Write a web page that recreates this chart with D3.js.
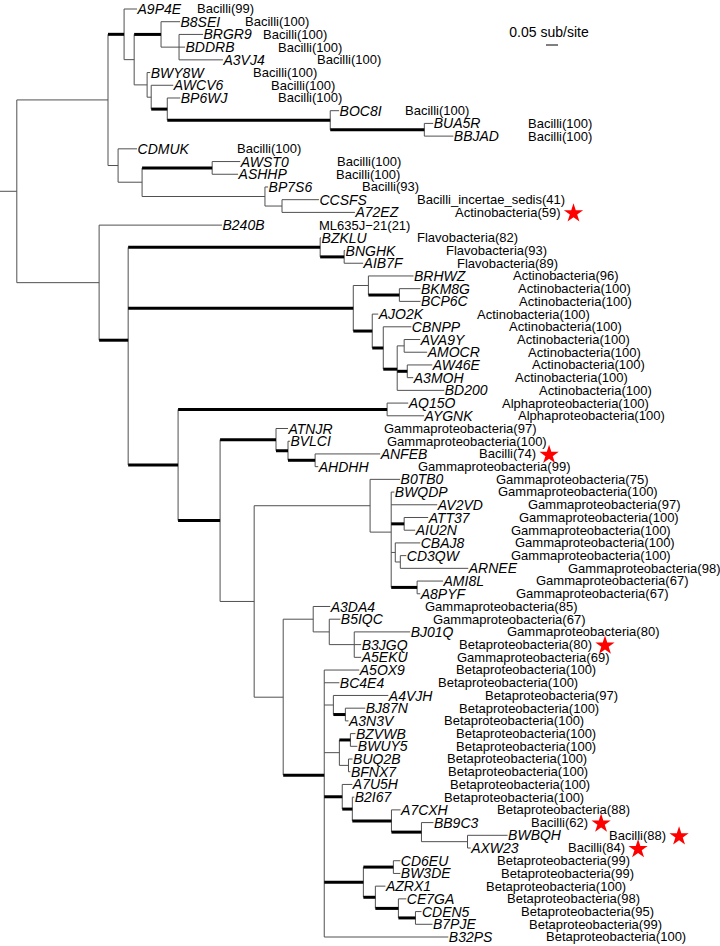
<!DOCTYPE html>
<html><head><meta charset="utf-8">
<script src="https://cdn.jsdelivr.net/npm/d3@7"></script>
<style>body{margin:0;background:#fff}svg{display:block}</style>
</head><body><svg id="c" width="720" height="946"></svg>
<script>
// ---------------- DATA ----------------
// edges: [child, parent, branch length (sub/site)] in pre-order, per clade
const rootEdge = 0.070;
const bacilliEdges = [
  ["nA","root",0.380],["n124","nA",0.067],["A9P4E","n124",0.054],["n134","n124",0.042],
  ["n161","n134",0.112],["B8SEI","n161",0.079],["n179","n161",0.075],["BRGR9","n179",0.100],
  ["BDDRB","n179",0.025],["A3VJ4","n179",0.183],["n147","n134",0.054],["BWY8W","n147",0.013],
  ["n151","n147",0.017],["AWCV6","n151",0.092],["n167","n151",0.067],["BP6WJ","n167",0.054],
  ["n330","n167",0.679],["BOC8I","n330",0.037],["n424","n330",0.392],["BUA5R","n424",0.037],
  ["BBJAD","n424",0.121],["n118","nA",0.042],["CDMUK","n118",0.079],["n142","n118",0.100],
  ["n212","n142",0.292],["AWST0","n212",0.117],["ASHHP","n212",0.108],["n265","n142",0.512],
  ["BP7S6","n265",0.013],["n282","n265",0.071],["CCSFS","n282",0.154],["A72EZ","n282",0.304]
];
const flavoActinoEdges = [
  ["nB","root",0.343],["B240B","nB",0.512],["nC","nB",0.121],["nFl","nC",0.800],
  ["BZKLU","nFl",0.004],["n344","nFl",0.100],["BNGHK","n344",0.004],["AIB7F","n344",0.079],
  ["nAc","nC",0.938],["n368","nAc",0.063],["BRHWZ","n368",0.188],["n399","n368",0.129],
  ["BKM8G","n399",0.088],["BCP6C","n399",0.088],["n372","nAc",0.079],["AJO2K","n372",0.025],
  ["n383","n372",0.046],["CBNPP","n383",0.117],["n397","n383",0.058],["n404","n397",0.029],
  ["AVA9Y","n404",0.067],["AMOCR","n404",0.096],["n407","n397",0.042],["AW46E","n407",0.104],
  ["A3MOH","n407",0.025],["BD200","n397",0.196]
];
const alphaGammaEdges = [
  ["n178","nC",0.208],["nAl","n178",0.871],["AQ15O","nAl",0.088],["AYGNK","nAl",0.154],
  ["n220","n178",0.175],["n276","n220",0.233],["ATNJR","n276",0.050],["n288","n276",0.050],
  ["BVLCI","n288",0.008],["n315","n288",0.113],["ANFEB","n315",0.271],["AHDHH","n315",0.013],
  ["n254","n220",0.142],["nG","n254",0.483],["B0TB0","nG",0.125],["n391","nG",0.088],
  ["BWQDP","n391",0.013],["AV2VD","n391",0.192],["n404g","n391",0.054],["ATT37","n404g",0.100],
  ["AIU2N","n404g",0.046],["n395","n391",0.017],["CBAJ8","n395",0.104],["n400","n395",0.021],
  ["CD3QW","n400",0.025],["ARNEE","n400",0.283],["n417","n391",0.108],["AMI8L","n417",0.108],
  ["A8PYF","n417",0.013]
];
const betaEdges = [
  ["n283","n254",0.121],["n313","n283",0.125],["A3DA4","n313",0.071],["n329","n313",0.067],
  ["B5IQC","n329",0.046],["n354","n329",0.104],["BJ01Q","n354",0.233],["B3JGQ","n354",0.029],
  ["A5EKU","n354",0.029],["n324","n283",0.171],["A5OX9","n324",0.146],["BC4E4","n324",0.063],
  ["n333","n324",0.038],["A4VJH","n333",0.229],["n345","n333",0.050],["BJ87N","n345",0.083],
  ["A3N3V","n345",0.013],["n338","n324",0.063],["n350","n338",0.046],["BZVWB","n350",0.021],
  ["BWUY5","n350",0.029],["n348","n338",0.038],["BUQ2B","n348",0.017],["BFNX7","n348",0.008],
  ["n342","n324",0.075],["A7U5H","n342",0.042],["n352","n342",0.042],["B2I67","n352",0.008],
  ["n391b","n352",0.163],["A7CXH","n391b",0.038],["n421","n391b",0.125],["BB9C3","n421",0.050],
  ["n467","n421",0.192],["BWBQH","n467",0.167],["AXW23","n467",0.013],["n363","n324",0.163],
  ["n393","n363",0.125],["CD6EU","n393",0.029],["BW3DE","n393",0.029],["n375","n363",0.050],
  ["AZRX1","n375",0.042],["n398","n375",0.096],["CE7GA","n398",0.033],["n415","n398",0.071],
  ["CDEN5","n415",0.025],["B7PJE","n415",0.071],["B32PS","n324",0.517]
];
// branches with strong support (drawn thick)
const supportedBranches = ["n124","n161","n167","n330","n424","n212","nC","nFl","n344","nAc",
  "n399","n372","n383","n397","n407","n178","nAl","n220","n276","n288","n315","n404g","n417",
  "n324","n345","n350","n342","n352","n391b","n421","n363","n393","n375","n398","n415"];
// taxonomy annotation per tip (in tip order)
const tipTaxa = [
  "Bacilli(99)","Bacilli(100)","Bacilli(100)","Bacilli(100)","Bacilli(100)","Bacilli(100)",
  "Bacilli(100)","Bacilli(100)","Bacilli(100)","Bacilli(100)","Bacilli(100)","Bacilli(100)",
  "Bacilli(100)","Bacilli(100)","Bacilli(93)","Bacilli_incertae_sedis(41)","Actinobacteria(59)",
  "ML635J\u221221(21)","Flavobacteria(82)","Flavobacteria(93)","Flavobacteria(89)",
  "Actinobacteria(96)","Actinobacteria(100)","Actinobacteria(100)","Actinobacteria(100)",
  "Actinobacteria(100)","Actinobacteria(100)","Actinobacteria(100)","Actinobacteria(100)",
  "Actinobacteria(100)","Actinobacteria(100)","Alphaproteobacteria(100)","Alphaproteobacteria(100)",
  "Gammaproteobacteria(97)","Gammaproteobacteria(100)","Bacilli(74)","Gammaproteobacteria(99)",
  "Gammaproteobacteria(75)","Gammaproteobacteria(100)","Gammaproteobacteria(97)",
  "Gammaproteobacteria(100)","Gammaproteobacteria(100)","Gammaproteobacteria(100)",
  "Gammaproteobacteria(100)","Gammaproteobacteria(98)","Gammaproteobacteria(67)",
  "Gammaproteobacteria(67)","Gammaproteobacteria(85)","Gammaproteobacteria(67)",
  "Gammaproteobacteria(80)","Betaproteobacteria(80)","Gammaproteobacteria(69)",
  "Betaproteobacteria(100)","Betaproteobacteria(100)","Betaproteobacteria(97)",
  "Betaproteobacteria(100)","Betaproteobacteria(100)","Betaproteobacteria(100)",
  "Betaproteobacteria(100)","Betaproteobacteria(100)","Betaproteobacteria(100)",
  "Betaproteobacteria(100)","Betaproteobacteria(100)","Betaproteobacteria(88)","Bacilli(62)",
  "Bacilli(88)","Bacilli(84)","Betaproteobacteria(99)","Betaproteobacteria(99)",
  "Betaproteobacteria(100)","Betaproteobacteria(98)","Betaproteobacteria(95)",
  "Betaproteobacteria(99)","Betaproteobacteria(100)"
];
const starredTips = ["A72EZ","ANFEB","B3JGQ","BB9C3","BWBQH","AXW23"];
const scaleBarValue = 0.05;
const scaleBarLabel = "0.05 sub/site";

// ---------------- LAYOUT ----------------
const pxPerUnit = 240, tipTop = 9, tipBottom = 937;
const taxaLabelX = [197,245,263,278,317,253,271,278,405,528,528,237,337,336,362,417,455,319,417,446,
  457,513,518,519,477,509,517,528,532,515,539,502,518,384,387,479,418,496,498,528,
  519,511,515,511,568,536,516,425,433,507,459,457,456,438,485,459,444,456,456,447,
  448,450,444,497,531,609,568,497,501,486,507,521,529,546];
const FONT = "'Liberation Sans', Arial, Helvetica, sans-serif";

// ---------------- BUILD ----------------
const edges = [["root","",rootEdge]].concat(bacilliEdges, flavoActinoEdges, alphaGammaEdges, betaEdges)
  .map(([id,parent,len]) => ({id, parent, len}));
const root = d3.stratify().id(d => d.id).parentId(d => d.parent || null)(edges);
root.eachBefore(n => { n.dist = (n.parent ? n.parent.dist : 0) + n.data.len; });
const leaves = root.leaves();
const x = d3.scaleLinear().domain([0, 1]).range([0, pxPerUnit]);
const y = d3.scaleLinear().domain([0, leaves.length - 1]).range([tipTop, tipBottom]);
leaves.forEach((l, i) => { l.y = y(i); l.idx = i; });
root.eachAfter(n => { if (n.children) n.y = d3.mean(n.children, c => c.y); });
const bold = new Set(supportedBranches);

const svg = d3.select("#c");
const g = svg.append("g");

// vertical connectors
g.selectAll("line.v").data(root.descendants().filter(n => n.children)).join("line")
  .attr("x1", n => x(n.dist)).attr("x2", n => x(n.dist))
  .attr("y1", n => n.children[0].y).attr("y2", n => n.children[n.children.length-1].y)
  .attr("stroke", "#505050").attr("stroke-width", 1);
// horizontal branches (thin first, bold on top)
const nodesSorted = root.descendants().sort((a,b) => bold.has(a.id) - bold.has(b.id));
g.selectAll("line.h").data(nodesSorted).join("line")
  .attr("x1", n => n.parent ? x(n.parent.dist) : x(0))
  .attr("x2", n => x(n.dist))
  .attr("y1", n => n.y).attr("y2", n => n.y)
  .attr("stroke", n => bold.has(n.id) ? "#000" : "#505050")
  .attr("stroke-width", n => bold.has(n.id) ? 3 : 1);

// tip labels
g.selectAll("text.tip").data(leaves).join("text")
  .attr("x", n => x(n.dist) + 0.5).attr("y", n => n.y).attr("dy", "0.36em")
  .attr("font-family", FONT).attr("font-style", "italic").attr("font-size", 14)
  .attr("fill", "#000").text(n => n.id);

// taxonomy labels
const taxa = g.selectAll("text.tax").data(leaves).join("text")
  .attr("x", n => taxaLabelX[n.idx]).attr("y", n => n.y).attr("dy", "0.34em")
  .attr("font-family", FONT).attr("font-size", 13).attr("fill", "#000")
  .text(n => tipTaxa[n.idx]);

// stars
const star = d3.symbol().type(d3.symbolStar).size(115);
taxa.filter(n => starredTips.includes(n.id)).each(function(n) {
  const w = this.getComputedTextLength();
  g.append("path").attr("d", star)
    .attr("transform", `translate(${taxaLabelX[n.idx] + w + 13},${n.y + 1})`)
    .attr("fill", "#ff0000");
});

// scale bar
const sbX = 546;
g.append("text").attr("x", sbX + (x(scaleBarValue) - x(0)) / 2 - 3).attr("y", 32).attr("dy", "0.36em")
  .attr("text-anchor", "middle").attr("font-family", FONT).attr("font-size", 14).text(scaleBarLabel);
g.append("line").attr("x1", sbX).attr("x2", sbX + x(scaleBarValue) - x(0))
  .attr("y1", 45).attr("y2", 45).attr("stroke", "#000").attr("stroke-width", 1);
</script></body></html>
